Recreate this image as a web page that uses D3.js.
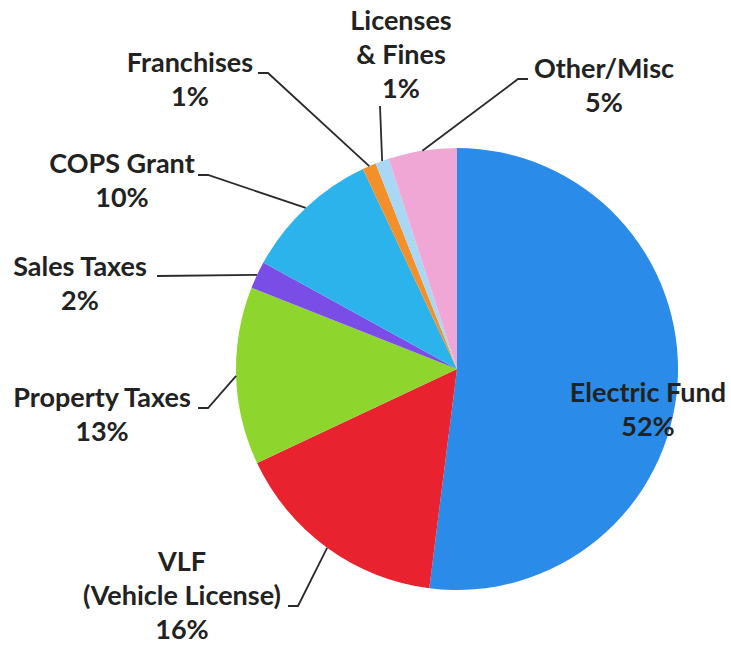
<!DOCTYPE html>
<html>
<head>
<meta charset="utf-8">
<script src="https://cdn.jsdelivr.net/npm/d3@7"></script>
<style>
  body { margin: 0; background: #fff; }
  svg text { font-family: Lato, "Open Sans", sans-serif; font-weight: 700; fill: #222; }
</style>
</head>
<body>
<div id="chart"></div>
<script>
// revenue shares, clockwise from 12 o'clock
const categories = ["Electric Fund", "VLF (Vehicle License)", "Property Taxes", "Sales Taxes",
                    "COPS Grant", "Franchises", "Licenses & Fines", "Other/Misc"];
const labelLines = [["Electric Fund"], ["VLF", "(Vehicle License)"], ["Property Taxes"], ["Sales Taxes"],
                    ["COPS Grant"], ["Franchises"], ["Licenses", "& Fines"], ["Other/Misc"]];
const values = [52, 16, 13, 2, 10, 1, 1, 5];
const colors = ["#2b8be8", "#e8222e", "#8ed62e", "#7a4de6", "#2db3ec", "#f3902a", "#a9d8f4", "#f1a7d6"];

const width = 731, height = 646;
const cx = 457, cy = 369, r = 221;

// label placement: centre x, first baseline, and the leader path start (text side)
const layout = [
    { x: 648, y: 402, lead: null },
    { x: 182, y: 571, lead: [[288, 606], [298, 606]] },
    { x: 102, y: 407, lead: [[198, 408], [208, 408]] },
    { x: 80,  y: 276, lead: [[157, 276]] },
    { x: 122, y: 173, lead: [[198, 175], [208, 175]] },
    { x: 190, y: 72,  lead: [[258, 73], [268, 73]] },
    { x: 401, y: 30,  lead: [[380, 106]] },
    { x: 604, y: 78,  lead: [[528, 79], [518, 79]] }
];
const lineH = 34;

const data = categories.map((c, i) => ({ name: c, lines: labelLines[i], value: values[i], color: colors[i], pos: layout[i] }));

const svg = d3.select("#chart")
    .append("svg")
    .attr("width", width)
    .attr("height", height);

const pie = d3.pie().sort(null).value(d => d.value);
const arcs = pie(data);
const arc = d3.arc().innerRadius(0).outerRadius(r);

const g = svg.append("g").attr("transform", `translate(${cx},${cy})`);

g.selectAll("path.slice")
    .data(arcs)
    .enter()
    .append("path")
        .attr("class", "slice")
        .attr("d", arc)
        .attr("fill", d => d.data.color);

// leader lines end on the rim at each slice's mid angle
const line = d3.line();
svg.selectAll("path.lead")
    .data(arcs.filter(d => d.data.pos.lead))
    .enter()
    .append("path")
        .attr("class", "lead")
        .attr("fill", "none")
        .attr("stroke", "#2a2a2a")
        .attr("stroke-width", 1.8)
        .attr("d", d => {
            const a = (d.startAngle + d.endAngle) / 2;
            const end = [cx + r * Math.sin(a), cy - r * Math.cos(a)];
            return line(d.data.pos.lead.concat([end]));
        });

const labels = svg.selectAll("text.lbl")
    .data(arcs)
    .enter()
    .append("text")
        .attr("class", "lbl")
        .attr("text-anchor", "middle")
        .attr("font-size", "27px");

labels.each(function(d) {
    const t = d3.select(this);
    const rows = d.data.lines.concat([d.data.value + "%"]);
    rows.forEach((row, k) => {
        t.append("tspan")
            .attr("x", d.data.pos.x)
            .attr("y", d.data.pos.y + k * lineH)
            .text(row);
    });
});
</script>
</body>
</html>
